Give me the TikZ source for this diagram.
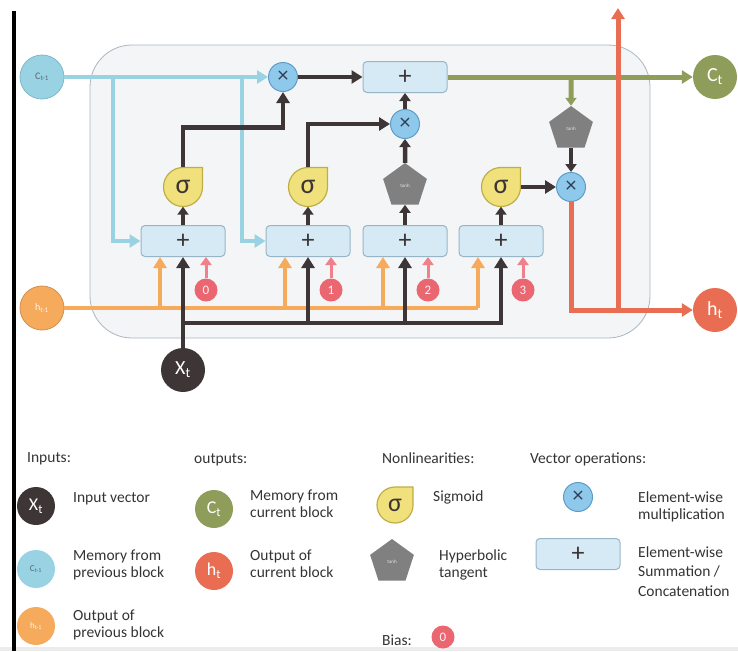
\documentclass[tikz,border=0pt]{standalone}
\usepackage{fontspec}
\setmainfont{Carlito}
\usetikzlibrary{arrows.meta,shapes.geometric}
\definecolor{cbl}{HTML}{98D2E3}
\definecolor{cbldraw}{HTML}{7DB8CC}
\definecolor{xfill}{HTML}{8EC9EC}
\definecolor{xdraw}{HTML}{5E9CC7}
\definecolor{xtext}{HTML}{2E3E55}
\definecolor{boxfill}{HTML}{D6EAF5}
\definecolor{boxdraw}{HTML}{98B5C8}
\definecolor{sigfill}{HTML}{F1E17C}
\definecolor{sigdraw}{HTML}{BFAE45}
\definecolor{tanhgray}{HTML}{808080}
\definecolor{dk}{HTML}{3D3536}
\definecolor{cgr}{HTML}{8E9E5A}
\definecolor{cor}{HTML}{F5AA5C}
\definecolor{crd}{HTML}{E86D52}
\definecolor{bias}{HTML}{EA6670}
\definecolor{biasar}{HTML}{F0818A}
\definecolor{bgfill}{HTML}{F4F5F7}
\definecolor{bgdraw}{HTML}{A9B6C2}
\definecolor{txt}{HTML}{333333}
\newcommand{\sigshape}[3]{\path[fill=sigfill,draw=sigdraw,line width=1.2pt] (#1+#3,#2) -- (#1+#3,#2-#3) -- (#1,#2-#3) arc[start angle=-90,end angle=-360,radius=#3] -- cycle;}
\tikzset{
  every node/.style={inner sep=0pt},
  tip/.style={-{Triangle[length=11pt,width=13pt]}},
  stip/.style={-{Triangle[length=8pt,width=11pt]}},
  lblue/.style={line width=4.5pt,cbl},
  ldark/.style={line width=4.5pt,dk},
  lgreen/.style={line width=5pt,cgr},
  lorange/.style={line width=4.5pt,cor},
  lred/.style={line width=5pt,crd},
  lbias/.style={line width=3pt,biasar},
  xop/.style={circle,minimum size=29pt,fill=xfill,draw=xdraw,line width=1pt,text=xtext,font=\fontsize{22}{22}\selectfont},
  plusbox/.style={rectangle,rounded corners=4pt,minimum width=84pt,minimum height=31pt,fill=boxfill,draw=boxdraw,line width=1pt,text=dk,font=\fontsize{26}{26}\selectfont},
  sig/.style={circle,minimum size=39pt,text=dk,font=\fontsize{28}{28}\selectfont},
  tanhnode/.style={regular polygon,regular polygon sides=5,minimum size=46pt,fill=tanhgray,text=white!80!gray,font=\fontsize{5}{5}\selectfont},
  bignode/.style={circle,minimum size=44pt,text=white,font=\fontsize{20}{20}\selectfont},
  legnode/.style={circle,minimum size=38pt,text=white,font=\fontsize{18}{18}\selectfont},
  biasnode/.style={circle,minimum size=23pt,fill=bias,text=white!90!bias,font=\fontsize{13}{13}\selectfont},
  legtext/.style={anchor=base west,align=left,text=txt,font=\fontsize{15.5}{17.5}\selectfont},
}
\begin{document}
\begin{tikzpicture}[x=1pt,y=-1pt]
\useasboundingbox (0,0) rectangle (738,651);
% bottom strip and left bar
\fill[gray!15] (0,647) rectangle (738,651);
\coordinate (lt) at (14,11);
\coordinate (lb) at (14,651);
\draw[line width=4pt,black] (lt) -- (lb);
% cell background
\node[draw=bgdraw,fill=bgfill,line width=0.8pt,rounded corners=42pt,minimum width=560pt,minimum height=293pt] (cell) at (370,191.5) {};

% sigma shapes
\sigshape{183}{187}{19.5}
\sigshape{308}{187}{19.5}
\sigshape{501}{187}{19.5}
\node[sig] (s1) at (183,187) {σ};
\node[sig] (s2) at (308,187) {σ};
\node[sig] (s3) at (501,187) {σ};

% tanh
\node[tanhnode] (t1) at (405,186) {tanh};
\node[tanhnode] (t2) at (571,129) {tanh};

% products
\node[xop] (m1) at (283,77) {×};
\node[xop] (m2) at (405,124) {×};
\node[xop] (m3) at (571,187) {×};

% sums
\node[plusbox] (ptop) at (405,77) {+};
\node[plusbox] (b1) at (183,241) {+};
\node[plusbox] (b2) at (308,241) {+};
\node[plusbox] (b3) at (405,241) {+};
\node[plusbox] (b4) at (501,241) {+};

% inputs / outputs
\node[bignode,fill=cbl,draw=cbldraw,line width=0.8pt,text=xtext!80,font=\fontsize{10}{10}\selectfont] (cprev) at (42,77) {C\textsubscript{t-1}};
\node[bignode,fill=cor,draw=cor!85!black,line width=0.8pt,text=white!90!cor,font=\fontsize{10}{10}\selectfont] (hprev) at (42,308) {h\textsubscript{t-1}};
\node[bignode,fill=dk] (xt) at (183,370) {X\textsubscript{t}};
\node[bignode,fill=cgr] (ct) at (715,77) {C\textsubscript{t}};
\node[bignode,fill=crd] (ht) at (715,310) {h\textsubscript{t}};

% bias
\node[biasnode] (bias0) at (206,290) {0};
\node[biasnode] (bias1) at (331,290) {1};
\node[biasnode] (bias2) at (428,290) {2};
\node[biasnode] (bias3) at (523,290) {3};

% blue memory lines
\coordinate (cj1) at (113,77);
\coordinate (cj2) at (242,77);
\draw[lblue,tip] (cprev) -- (m1);
\draw[lblue,tip] (cj1) |- (b1);
\draw[lblue,tip] (cj2) |- (b2);

% orange lines
\coordinate (oj1) at (160,308);
\coordinate (oj2) at (285,308);
\coordinate (oj3) at (383,308);
\coordinate (oj4) at (478,308);
\draw[lorange] (hprev) -- (oj4);
\draw[lorange,tip] (oj1) -- (oj1 |- b1.south);
\draw[lorange,tip] (oj2) -- (oj2 |- b2.south);
\draw[lorange,tip] (oj3) -- (oj3 |- b3.south);
\draw[lorange,tip] (oj4) -- (oj4 |- b4.south);

% bias arrows
\draw[lbias,stip] (bias0) -- (bias0 |- b1.south);
\draw[lbias,stip] (bias1) -- (bias1 |- b2.south);
\draw[lbias,stip] (bias2) -- (bias2 |- b3.south);
\draw[lbias,stip] (bias3) -- (bias3 |- b4.south);

% dark input lines
\coordinate (xj1) at (183,323);
\coordinate (xj2) at (308,323);
\coordinate (xj3) at (405,323);
\draw[ldark,tip] (xt) -- (b1);
\draw[ldark,tip] (xj1) -| (b4);
\draw[ldark,tip] (xj2) -- (b2);
\draw[ldark,tip] (xj3) -- (b3);

% gates
\draw[ldark,stip] (b1) -- (s1);
\draw[ldark,stip] (b2) -- (s2);
\draw[ldark,stip] (b3) -- (t1);
\draw[ldark,stip] (b4) -- (s3);
\draw[ldark,tip] (s1.north) -- ++(0,-40) -| (m1.south);
\draw[ldark,tip] (s2.north) |- (m2.west);
\draw[ldark,stip] (t1) -- (m2);
\draw[ldark,stip] (m2) -- (ptop);
\draw[ldark,tip] (m1) -- (ptop);
\draw[ldark,tip] (s3) -- (m3);

% green output
\coordinate (gj) at (571,77);
\draw[lgreen,tip] (ptop) -- (ct);
\draw[lgreen,stip] (gj) -- (t2);
\draw[ldark,stip] (t2) -- (m3);

% red output
\coordinate (rj) at (618,310);
\coordinate (rtop) at (618,8);
\draw[lred,tip] (m3) |- (ht);
\draw[lred,tip] (rj) -- (rtop);

% legend
\node[legtext] (linp) at (27,462) {Inputs:};
\node[legtext] (lout) at (194,463) {outputs:};
\node[legtext] (lnon) at (382,463) {Nonlinearities:};
\node[legtext] (lvec) at (530,463) {Vector operations:};

\node[legnode,fill=dk] (gx) at (36,506) {X\textsubscript{t}};
\node[legtext] (tx) at (73,502) {Input vector};
\node[legnode,fill=cbl,text=xtext!80,font=\fontsize{9}{9}\selectfont] (gc) at (36,569) {C\textsubscript{t-1}};
\node[legtext] (tc) at (73,577.5) {Memory from\\previous block};
\node[legnode,fill=cor,text=white!90!cor,font=\fontsize{9}{9}\selectfont] (gh) at (36,626) {h\textsubscript{t-1}};
\node[legtext] (th) at (73,637.5) {Output of\\previous block};

\node[legnode,fill=cgr] (gct) at (214,509) {C\textsubscript{t}};
\node[legtext] (tct) at (250,517.5) {Memory from\\current block};
\node[legnode,fill=crd] (ght) at (214,571) {h\textsubscript{t}};
\node[legtext] (tht) at (250,577.5) {Output of\\current block};

\sigshape{395}{505}{18}
\node[sig,minimum size=36pt,font=\fontsize{26}{26}\selectfont] (gs) at (395,505) {σ};
\node[legtext] (ts) at (433,501) {Sigmoid};
\node[tanhnode] (gt) at (392,562) {tanh};
\node[legtext] (tt) at (439,577.5) {Hyperbolic\\tangent};

\node[xop] (gm) at (578,497) {×};
\node[legtext] (tm) at (638,519.5) {Element-wise\\multiplication};
\node[plusbox] (gp) at (578,554) {+};
\node[legtext,font=\fontsize{15.5}{19.5}\selectfont] (tp) at (638,596) {Element-wise\\Summation /\\Concatenation};

\node[legtext] (tb) at (382,645) {Bias:};
\node[biasnode] (gb) at (443,637) {0};
\end{tikzpicture}
\end{document}
